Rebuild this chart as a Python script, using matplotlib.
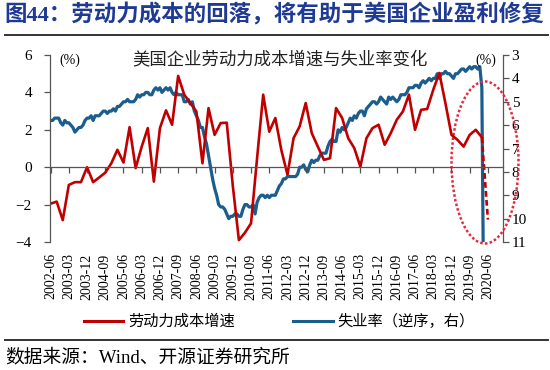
import numpy as np
import matplotlib.pyplot as plt
from matplotlib.patches import Ellipse
from matplotlib.lines import Line2D

plt.rcParams['font.family'] = ['Noto Sans CJK SC', 'DejaVu Sans']

# 劳动力成本增速 (%), quarterly from 2002-06 to 2020-03
labor_cost = [-1.95, -1.84, -2.83, -0.95, -0.8, -0.8, 0.0, -0.8, -0.55, -0.29,
              0.21, 0.93, 0.25, 2.14, -0.05, 1.1, 2.09, -0.77, 2.09, 3.04,
              2.27, 4.88, 3.88, 3.43, 2.98, 0.21, 3.16, 1.73, 2.36, 2.38,
              -1.0, -3.9, -3.5, -3.0, 0.5, 3.88, 1.9, 2.63, 0.9, -0.4,
              1.55, 2.18, 3.43, 1.82, 1.1, 0.39, 0.48, 3.16, 2.63, 1.55,
              1.02, 0.03, 1.55, 2.09, 2.27, 1.2, 1.82, 2.54, 2.98, 3.88,
              2.0, 3.07, 3.11, 4.14, 5.04, 3.43, 1.73, 1.46, 1.1, 1.73,
              2.0, 1.6]
# dashed estimate for 2020-06
labor_cost_est = -2.8

# 失业率 (%), monthly from 2002-06 to 2020-04
unemployment = [5.8, 5.8, 5.7, 5.7, 5.7, 5.9, 6.0,
                5.8, 5.9, 5.9, 6.0, 6.1, 6.3, 6.2, 6.1, 6.1, 6.0, 5.8, 5.7,
                5.7, 5.6, 5.8, 5.6, 5.6, 5.6, 5.5, 5.4, 5.4, 5.5, 5.4, 5.4,
                5.3, 5.4, 5.2, 5.2, 5.1, 5.0, 5.0, 4.9, 5.0, 5.0, 5.0, 4.9,
                4.7, 4.8, 4.7, 4.7, 4.6, 4.6, 4.7, 4.7, 4.5, 4.4, 4.5, 4.4,
                4.6, 4.5, 4.4, 4.5, 4.4, 4.6, 4.7, 4.6, 4.7, 4.7, 4.7, 5.0,
                5.0, 4.9, 5.1, 5.0, 5.4, 5.6, 5.8, 6.1, 6.1, 6.5, 6.8, 7.3,
                7.8, 8.3, 8.7, 9.0, 9.4, 9.5, 9.5, 9.6, 9.8, 10.0, 9.9, 9.9,
                9.8, 9.8, 9.9, 9.9, 9.6, 9.4, 9.4, 9.5, 9.5, 9.4, 9.8, 9.3,
                9.1, 9.0, 9.0, 9.1, 9.0, 9.1, 9.0, 9.0, 9.0, 8.8, 8.6, 8.5,
                8.3, 8.3, 8.2, 8.2, 8.2, 8.2, 8.2, 8.1, 7.8, 7.8, 7.7, 7.9,
                8.0, 7.7, 7.5, 7.6, 7.5, 7.5, 7.3, 7.2, 7.2, 7.2, 6.9, 6.7,
                6.6, 6.7, 6.7, 6.2, 6.3, 6.1, 6.2, 6.1, 5.9, 5.7, 5.8, 5.6,
                5.7, 5.5, 5.4, 5.4, 5.6, 5.3, 5.2, 5.1, 5.0, 5.0, 5.1, 5.0,
                4.8, 4.9, 5.0, 5.1, 4.8, 4.9, 4.8, 4.9, 5.0, 4.9, 4.7, 4.7,
                4.7, 4.6, 4.4, 4.4, 4.4, 4.3, 4.3, 4.4, 4.2, 4.1, 4.2, 4.1,
                4.0, 4.1, 4.0, 4.0, 3.8, 4.0, 3.8, 3.8, 3.7, 3.8, 3.8, 3.9,
                4.0, 3.8, 3.8, 3.7, 3.6, 3.6, 3.7, 3.6, 3.5, 3.6, 3.5, 3.5,
                3.6, 3.5, 4.4, 14.7]

# x tick labels, every 9 months
tick_labels = ['2002-06', '2003-03', '2003-12', '2004-09', '2005-06', '2006-03',
               '2006-12', '2007-09', '2008-06', '2009-03', '2009-12', '2010-09',
               '2011-06', '2012-03', '2012-12', '2013-09', '2014-06', '2015-03',
               '2015-12', '2016-09', '2017-06', '2018-03', '2018-12', '2019-09',
               '2020-06']

red = '#C00000'
blue = '#1B5E8E'
axis_c = '#555555'
serif = 'Liberation Serif'

# months since 2002-06
m_q = np.arange(len(labor_cost)) * 3
m_u = np.arange(len(unemployment))
m_ticks = np.arange(len(tick_labels)) * 9

fig = plt.figure(figsize=(5.5, 3.7), dpi=100)
ax = fig.add_axes([50 / 550, 1 - 242 / 370, 453.3 / 550, 187 / 370])
ax2 = ax.twinx()
ax.set_zorder(ax2.get_zorder() + 1)
ax.patch.set_visible(False)

ax2.plot(m_u, unemployment, color=blue, lw=2.3, solid_joinstyle='round')
ax.plot(m_q, labor_cost, color=red, lw=1.9, solid_joinstyle='round')
ax.plot([m_q[-1], m_q[-1] + 3], [labor_cost[-1], labor_cost_est],
        color=red, lw=1.9, ls=(0, (2.2, 1.2)))

ax.set_xlim(-0.3, 223.6)
ax.set_ylim(-4, 6)
ax.set_yticks(range(-4, 7, 2))
ax2.set_ylim(11, 3)
ax2.set_yticks(range(3, 12))

for s in ['top', 'right']:
    ax.spines[s].set_visible(False)
for s in ['top', 'left', 'bottom']:
    ax2.spines[s].set_visible(False)
ax.spines['bottom'].set_position(('data', 0))
for sp in [ax.spines['left'], ax.spines['bottom'], ax2.spines['right']]:
    sp.set_color(axis_c)
    sp.set_linewidth(0.9)

ax.set_xticks(m_ticks)
ax.set_xticklabels(tick_labels, rotation=90, family=serif, fontsize=10)
ax.tick_params(axis='x', direction='out', length=4, width=0.9, color=axis_c, pad=58)
ax.tick_params(axis='y', direction='out', length=4, width=0.9, color=axis_c, pad=9,
               labelsize=11)
ax2.tick_params(axis='y', direction='out', length=4, width=0.9, color=axis_c, pad=2,
                labelsize=11)
for lab in ax.get_yticklabels() + ax2.get_yticklabels():
    lab.set_family(serif)

ax.text(70 / 550, 1 - 60 / 370, '(%)', transform=fig.transFigure, family=serif,
        fontsize=10, ha='center', va='center')
ax.text(486 / 550, 1 - 60 / 370, '(%)', transform=fig.transFigure, family=serif,
        fontsize=10, ha='center', va='center')

fig.text(280 / 550, 1 - 59 / 370, '美国企业劳动力成本增速与失业率变化',
         fontsize=12.5, ha='center', va='center', color='#222222')

# highlight ellipse
fig.add_artist(Ellipse((485 / 550, 1 - 162.5 / 370), 67 / 550, 162 / 370,
                       transform=fig.transFigure, fill=False, edgecolor='#E8283C',
                       lw=1.8, ls=(0, (1, 0.9))))

# heading and rules
fig.text(4 / 550, 1 - 15 / 370, '图44：劳动力成本的回落，将有助于美国企业盈利修复',
         family=[serif, 'Noto Sans CJK SC'], fontsize=16.2, weight='bold',
         color='#1F3A93', ha='left', va='center')
fig.add_artist(Line2D([5 / 550, 548 / 550], [1 - 35 / 370] * 2, color='#333333', lw=1.4))
fig.add_artist(Line2D([5 / 550, 548 / 550], [1 - 340 / 370] * 2, color='#333333', lw=1.4))

handles = [Line2D([], [], color=red, lw=2.2), Line2D([], [], color=blue, lw=2.2)]
fig.legend(handles, ['劳动力成本增速', '失业率（逆序，右）'], loc='center',
           bbox_to_anchor=(279 / 550, 1 - 321.7 / 370), ncol=2, frameon=False,
           fontsize=11, handlelength=2.6, handletextpad=0.3, columnspacing=3.8)

fig.text(5 / 550, 1 - 358 / 370, '数据来源：Wind、开源证券研究所',
         family=[serif, 'Noto Sans CJK SC'], fontsize=13.5, ha='left', va='center')

fig.savefig('out.png', dpi=100)
